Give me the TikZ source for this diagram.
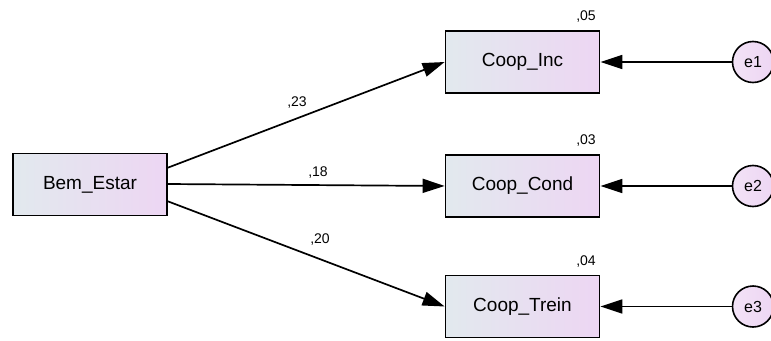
\documentclass[tikz,border=0pt]{standalone}
\usepackage{fontspec}
\setmainfont{Liberation Sans}
\usetikzlibrary{arrows.meta}
\definecolor{lcol}{HTML}{E2E9EE}
\definecolor{rcol}{HTML}{EDD6F3}
\tikzset{
  varbox/.style={draw=black, line width=1.8pt, minimum width=154pt, minimum height=62pt,
    left color=lcol, right color=rcol, font=\fontsize{19}{21}\selectfont, inner sep=0pt},
  errc/.style={draw=black, line width=1.6pt, circle, minimum size=41pt, inner sep=0pt,
    left color=rcol!70!white, right color=rcol, font=\fontsize{16}{18}\selectfont},
  lab/.style={font=\fontsize{14}{16}\selectfont, inner sep=0pt},
  path/.style={line width=1.7pt, -{Triangle[length=22pt,width=14pt]}}
}
\begin{document}
\begin{tikzpicture}[x=1pt,y=-1pt]
\useasboundingbox (0,0) rectangle (771,340);
\node[varbox] (be) at (90,184.5) {Bem\_Estar};
\node[varbox] (ci) at (522.5,62) {Coop\_Inc};
\node[varbox] (cc) at (522.5,186) {Coop\_Cond};
\node[varbox] (ct) at (522.5,306.5) {Coop\_Trein};
\node[errc] (e1) at (753,62) {e1};
\node[errc] (e2) at (753,186) {e2};
\node[errc] (e3) at (753,306.5) {e3};
\coordinate (s1) at (167,168);
\coordinate (s2) at (167,184);
\coordinate (s3) at (167,201);
\draw[path] (s1) -- (ci.west);
\draw[path] (s2) -- (cc.west);
\draw[path] (s3) -- (ct.west);
\draw[path] (e1) -- (ci.east);
\draw[path] (e2) -- (cc.east);
\draw[path] (e3) -- (ct.east);
\node[lab] (l1) at (297,103) {,23};
\node[lab] (l2) at (318,173) {,18};
\node[lab] (l3) at (320,240) {,20};
\node[lab] (r1) at (586,17) {,05};
\node[lab] (r2) at (586,141) {,03};
\node[lab] (r3) at (586,262) {,04};
\end{tikzpicture}
\end{document}
